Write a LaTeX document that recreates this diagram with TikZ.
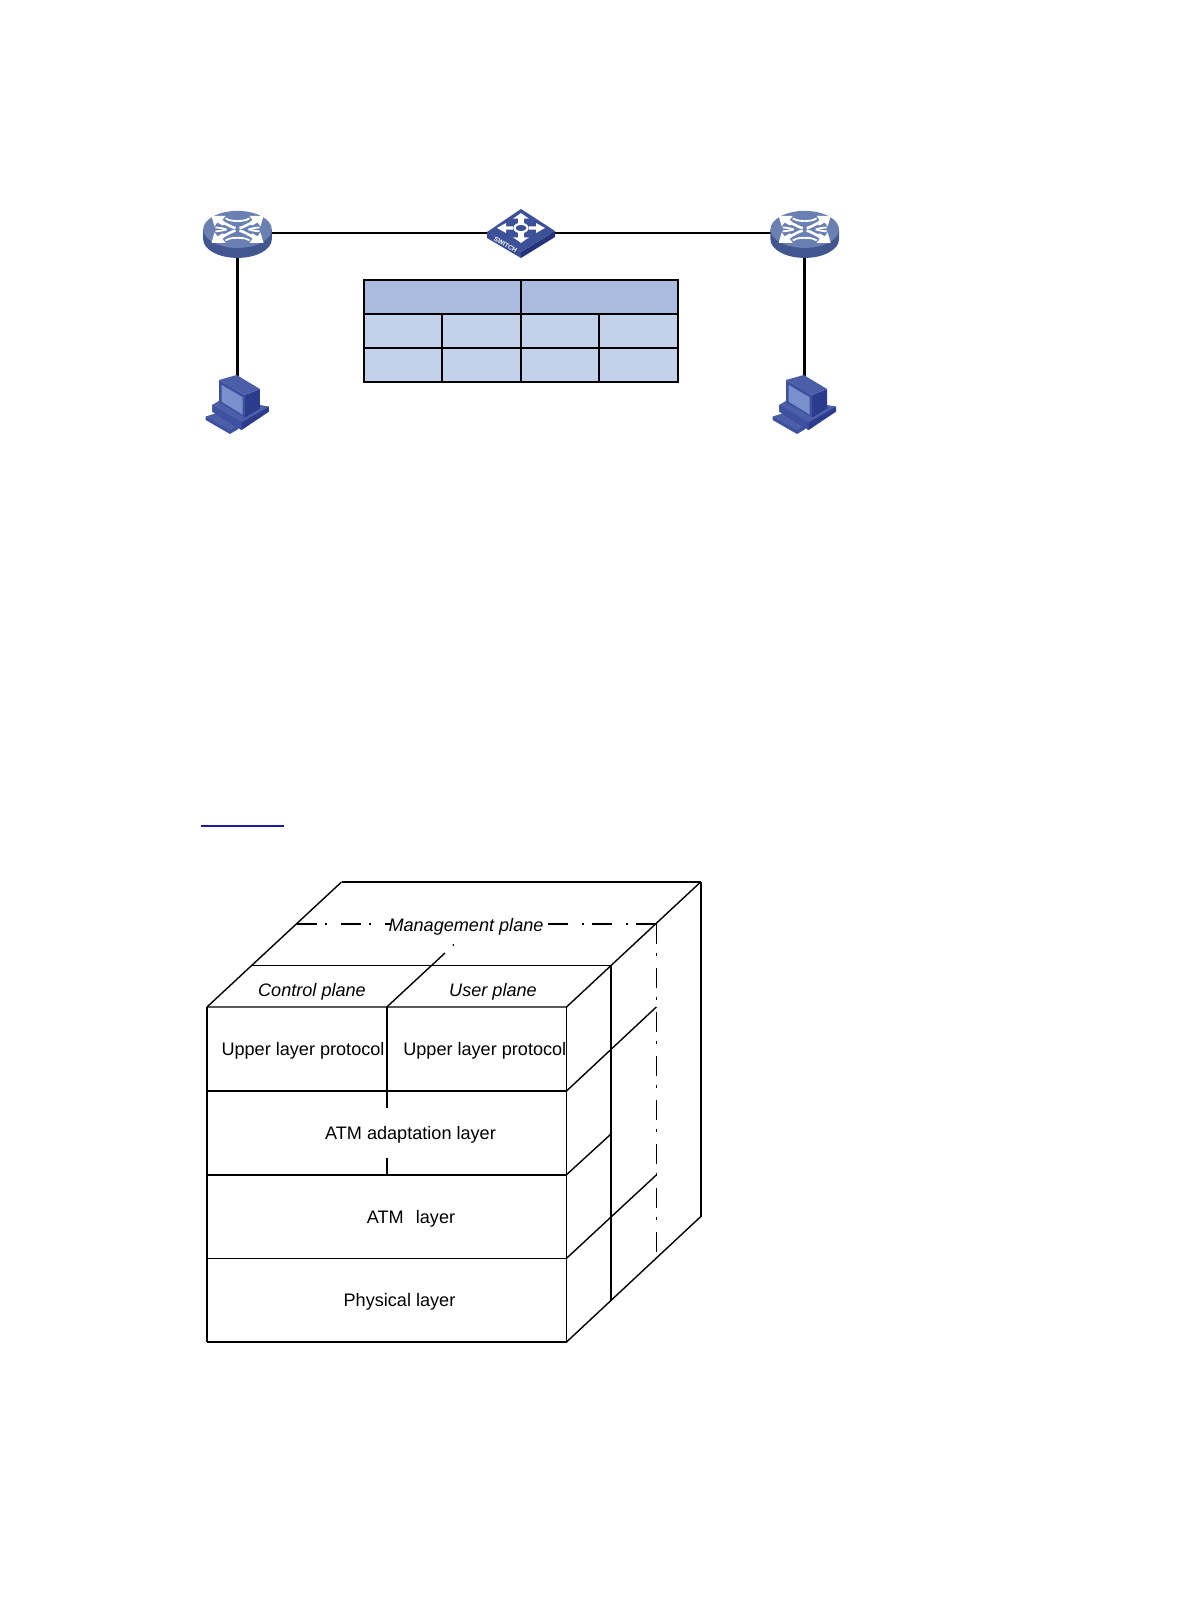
\documentclass[tikz,border=0pt]{standalone}
\usepackage{fontspec}
\setmainfont{Liberation Sans}
\definecolor{hdrblue}{HTML}{A9BCDF}
\definecolor{cellblue}{HTML}{C4D1EB}
\definecolor{rtop}{HTML}{6A80B2}
\definecolor{rside}{HTML}{42578F}
\definecolor{swtop}{HTML}{3D5199}
\definecolor{swleft}{HTML}{374B96}
\definecolor{swright}{HTML}{25347A}
\definecolor{pcfront}{HTML}{3E50A0}
\definecolor{pctop}{HTML}{4C5EA8}
\definecolor{pcside}{HTML}{2C3B8C}
\definecolor{pcscreen}{HTML}{7890CC}
\definecolor{linkblue}{HTML}{1A1A9A}
\tikzset{
  link/.style={black,line width=2.7pt},
  tcell/.style={draw=black,line width=1.8pt,fill=cellblue},
  thead/.style={draw=black,line width=1.8pt,fill=hdrblue},
  thin edge/.style={black,line width=1.4pt},
  bold edge/.style={black,line width=2.1pt},
  dashdot/.style={black,line width=1.3pt,dash pattern=on 20pt off 8.5pt on 2pt off 13.5pt},
  dashdotthin/.style={black,line width=1.2pt,dash pattern=on 20pt off 8.5pt on 3pt off 12.5pt},
  lbl/.style={anchor=base,inner sep=0pt,font=\fontsize{18.1pt}{20pt}\selectfont},
  lbli/.style={lbl,font=\fontsize{18.1pt}{20pt}\selectfont\itshape}
}
\newcommand{\routericon}[1]{%
 \begin{scope}[shift={(#1)}]
  \fill[rside] (-34.3,0) -- (-34.3,10) arc[start angle=180,end angle=0,x radius=34.3,y radius=18.5] -- (34.3,0) -- cycle;
  \fill[rtop] (0,0) ellipse[x radius=34.3,y radius=18.5];
  \foreach \sx/\sy in {-1/-1,1/-1,-1/1,1/1}{
   \fill[white] (\sx*26,\sy*13.5) -- (\sx*12,\sy*13.5) -- (\sx*15,\sy*9.5) -- (\sx*11,\sy*6) -- (\sx*15,\sy*4) -- (\sx*20,\sy*7) -- (\sx*23,\sy*3) -- cycle;
   \draw[white,line width=2.6pt] (\sx*14,\sy*6.5) .. controls (\sx*9,\sy*4.5) and (\sx*7,\sy*2.5) .. (\sx*2,\sy*1.2);
   \draw[white,line width=1.8pt] (\sx*12,\sy*11) .. controls (\sx*7,\sy*8) and (\sx*2,\sy*8.5) .. (0,\sy*8.5);
   \draw[white,line width=1.8pt] (\sx*22,\sy*2) .. controls (\sx*16,\sy*1.5) and (\sx*13,\sy*.5) .. (\sx*11,0);
  }
 \end{scope}}
\newcommand{\switchicon}[1]{%
 \begin{scope}[shift={(#1)}]
  \fill[swleft] (-34,2) -- (0,22) -- (0,28) -- (-34,8) -- cycle;
  \fill[swright] (34,1) -- (0,22) -- (0,28) -- (34,7) -- cycle;
  \fill[swtop] (0,-21) -- (34,1) -- (0,22) -- (-34,2) -- cycle;
  \foreach \a in {0,90,180,270}{
   \begin{scope}[shift={(0,-2)},cm={cos(\a),.62*sin(\a),-sin(\a),.62*cos(\a),(0,0)}]
    \fill[white] (8,-2.8) -- (15,-2.8) -- (15,-8) -- (24,0) -- (15,8) -- (15,2.8) -- (8,2.8) -- cycle;
   \end{scope}}
  \draw[white,line width=2.2pt] (0,-2) ellipse[x radius=6.5,y radius=4.2];
  \node[rotate=-30,white,inner sep=0pt,font=\fontsize{6.5pt}{6.5pt}\selectfont\bfseries] (swlabel) at (-15.5,14.6) {SWITCH};
 \end{scope}}
\newcommand{\pcicon}[1]{%
 \begin{scope}[shift={(#1)},x=.3333pt,y=-.3333pt]
  \fill[pcfront] (32,155) -- (70,143) -- (130,180) -- (130,192) -- (105,207) -- (32,165) -- cycle;
  \fill[pctop] (32,155) -- (70,143) -- (130,180) -- (105,195) -- cycle;
  \fill[pcside] (52,120) -- (75,108) -- (222,125) -- (222,140) -- (140,195) -- (52,140) -- cycle;
  \fill[pcfront] (52,120) -- (140,172) -- (140,195) -- (52,140) -- cycle;
  \fill[pctop] (52,120) -- (85,100) -- (195,120) -- (222,125) -- (140,172) -- cycle;
  \fill[pcside] (150,90) -- (195,72) -- (195,130) -- (150,158) -- cycle;
  \fill[pctop] (72,45) -- (125,30) -- (195,72) -- (150,90) -- cycle;
  \fill[pcfront] (72,45) -- (150,90) -- (150,158) -- (72,112) -- cycle;
  \fill[pcscreen] (80,60) -- (143,97) -- (143,149) -- (80,110) -- cycle;
 \end{scope}}
\begin{document}
\begin{tikzpicture}[x=1pt,y=-1pt]
\useasboundingbox (0,0) rectangle (1190,1616);
% network nodes
\coordinate (r1) at (237.5,233);
\coordinate (r2) at (804.7,233);
\coordinate (sw) at (521,233);
\coordinate (pc1) at (237.5,385);
\coordinate (pc2) at (804.7,385);
\draw[link] (r1) -- (sw) -- (r2);
\draw[link] (r1) -- (pc1);
\draw[link] (r2) -- (pc2);
\routericon{237.5,229.4}
\routericon{804.7,229.4}
\switchicon{521,230}
\pcicon{195,365}
\pcicon{762,365}
% table
\path[thead] (364,280) rectangle (521,313.7);
\path[thead] (521,280) rectangle (678,313.7);
\foreach \xa/\xb in {364/442,442/521,521/599,599/678}{
  \path[tcell] (\xa,313.7) rectangle (\xb,348);
  \path[tcell] (\xa,348) rectangle (\xb,381.7);
}
% link underline
\coordinate (ula) at (201,826);
\coordinate (ulb) at (284,826);
\draw[linkblue,line width=1.2pt] (ula) -- (ulb);
% cube
\coordinate (fl) at (207,1007);
\coordinate (fm) at (386.8,1007);
\coordinate (fr) at (566.5,1007);
\coordinate (bl) at (341.5,882);
\coordinate (br) at (700.6,882);
\coordinate (brb) at (700.6,1216.7);
\coordinate (frb) at (566.5,1342);
\coordinate (flb) at (207,1342);
\draw[thin edge] (fl) -- (bl);
\draw[bold edge] (bl) -- (br);
\draw[thin edge] (br) -- (fr) -- (fl);
\draw[bold edge] (br) -- (brb);
\draw[thin edge] (brb) -- (frb);
\draw[thin edge] (fr) -- (frb);
\draw[thin edge] (fl) -- (flb);
\draw[bold edge] (flb) -- (frb);
\draw[bold edge] (207,1091) -- (566.5,1091);
\draw[bold edge] (207,1174.7) -- (566.5,1174.7);
\draw[thin edge] (207,1258.3) -- (566.5,1258.3);
\draw[bold edge] (fm) -- (386.8,1107.7);
\draw[bold edge] (386.8,1157.7) -- (386.8,1174.7);
\draw[thin edge] (252,965.7) -- (611,965.7);
\draw[bold edge] (611,965.7) -- (611,1300.7);
\draw[thin edge] (fm) -- (445,953);
\fill[black] (453.4,945) circle[radius=1];
\draw[thin edge] (566.5,1091) -- (656.3,1007);
\draw[thin edge] (566.5,1174.7) -- (611,1134);
\draw[thin edge] (566.5,1258.3) -- (656.3,1175);
\draw[dashdot] (296.5,924) -- (391,924);
\draw[dashdot] (656.3,924) -- (548,924);
\draw[dashdotthin] (656.3,924) -- (656.3,1258.3);
% labels
\node[lbli] (mgmt) at (466,931.7) {Management plane};
\node[lbli] (ctrl) at (312,996.7) {Control plane};
\node[lbli] (user) at (493,996.7) {User plane};
\node[lbl] (up1) at (303,1055.7) {Upper layer protocol};
\node[lbl] (up2) at (484.8,1055.7) {Upper layer protocol};
\node[lbl] (aal) at (410.5,1139.3) {ATM adaptation layer};
\node[lbl] (atm) at (411,1223.3) {ATM\hspace{12.2pt}layer};
\node[lbl] (phy) at (399.5,1306.7) {Physical layer};
\end{tikzpicture}
\end{document}
